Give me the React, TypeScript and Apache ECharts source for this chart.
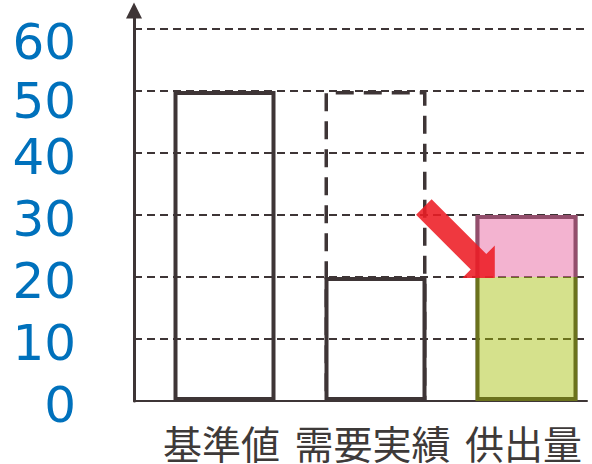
import React, { useEffect, useRef } from 'react';
import * as echarts from 'echarts';

const categories = ['基準値', '需要実績', '供出量'];
const yTicks = [0, 10, 20, 30, 40, 50, 60];
const referenceLevel = [null, 50, null];
const actualValues = [50, 20, null];
const supplyBase = [null, null, 20];
const supplyExtra = [null, null, 10];
const supplyTotal = supplyBase.map((v, i) => (v == null ? null : v + (supplyExtra[i] ?? 0)));

const AXIS_MAX = 63;
const DARK = '#3e3536';

export default function App() {
  const ref = useRef<HTMLDivElement>(null);
  useEffect(() => {
    if (!ref.current) return;
    const chart = echarts.init(ref.current, undefined, { renderer: 'svg' });
    const barCommon = { type: 'bar', xAxisIndex: 1, yAxisIndex: 1, barWidth: 102, barGap: '-100%' };
    const numStyle = { fontSize: 50, color: '#0071bc', fontFamily: 'DejaVu Sans' };
    chart.setOption({
      animation: false,
      grid: [
        { left: 134, right: 5, top: 10.4, bottom: 63, outerBoundsMode: 'none', containLabel: false },
        { left: 149, width: 453, top: 10.4, bottom: 63, outerBoundsMode: 'none', containLabel: false },
      ],
      xAxis: [
        {
          gridIndex: 0, type: 'category', data: categories,
          axisLine: { show: true, lineStyle: { color: DARK, width: 2 } },
          axisTick: { show: false }, splitLine: { show: false },
          axisLabel: {
            interval: 0, fontSize: 39, lineHeight: 40, color: '#3e3a39', margin: 21,
            fontFamily: '"Noto Sans CJK JP", sans-serif', padding: [0, 0, 0, 24],
          },
        },
        {
          gridIndex: 1, type: 'category', data: categories,
          axisLine: { show: false }, axisTick: { show: false }, axisLabel: { show: false },
        },
      ],
      yAxis: [
        {
          gridIndex: 0, type: 'value', min: 0, max: AXIS_MAX, interval: 10,
          axisLine: { show: true, symbol: ['none', 'triangle'], symbolSize: [16, 16], lineStyle: { color: DARK, width: 3 } },
          axisTick: { show: false },
          axisLabel: {
            ...numStyle, margin: 58,
            showMaxLabel: false, padding: [8, 0, 0, 0],
            formatter: (v: number) => {
              if (!yTicks.includes(v)) return '';
              if (v === 60) return `{c|${v}}`;
              if (v === 50) return `{b|${v}}`;
              return `{a|${v}}`;
            },
            rich: {
              a: { ...numStyle },
              b: { ...numStyle, padding: [12, 0, 0, 0] },
              c: { ...numStyle, padding: [18, 0, 0, 0] },
            },
          },
          splitLine: { show: true, showMinLine: false, showMaxLine: false, lineStyle: { color: DARK, type: [8, 5], width: 2 } },
        },
        { gridIndex: 1, type: 'value', min: 0, max: AXIS_MAX, show: false },
      ],
      series: [
        { ...barCommon, name: 'ref', data: referenceLevel, itemStyle: { color: 'rgba(0,0,0,0)', borderColor: DARK, borderWidth: 3.5, borderType: [18, 10] } },
        { ...barCommon, name: 'total', data: supplyTotal, itemStyle: { color: 'rgba(0,0,0,0)', borderColor: DARK, borderWidth: 4 } },
        { ...barCommon, name: 'actual', data: actualValues, itemStyle: { color: 'rgba(0,0,0,0)', borderColor: DARK, borderWidth: 4 } },
        { ...barCommon, name: 'base', stack: 'supply', data: supplyBase, itemStyle: { color: 'rgba(162,189,0,0.45)' } },
        { ...barCommon, name: 'extra', stack: 'supply', data: supplyExtra, itemStyle: { color: 'rgba(231,103,161,0.5)' } },
      ],
    });

    const c1 = chart.convertToPixel({ xAxisIndex: 1 }, categories[1]) as number;
    const c2 = chart.convertToPixel({ xAxisIndex: 1 }, categories[2]) as number;
    const band = c2 - c1;
    const yTip = chart.convertToPixel({ yAxisIndex: 1 }, supplyBase[2] as number) as number;
    const T = [c2 - 0.21 * band, yTip + 1];
    const S = [T[0] - 0.47 * band, T[1] - 0.47 * band];
    const dx = T[0] - S[0], dy = T[1] - S[1];
    const len = Math.hypot(dx, dy);
    const u = [dx / len, dy / len];
    const n = [-u[1], u[0]];
    const h = 23, H = 23, w = 11;
    const B = [T[0] - u[0] * h, T[1] - u[1] * h];
    const pt = (p: number[], k: number) => [p[0] + n[0] * k, p[1] + n[1] * k];
    const points = [pt(S, w), pt(B, w), pt(B, H), T, pt(B, -H), pt(B, -w), pt(S, -w)];
    chart.setOption({
      graphic: [{ type: 'polygon', shape: { points }, style: { fill: 'rgba(237,28,36,0.88)' }, z: 100 }],
    });

    return () => chart.dispose();
  }, []);
  return <div ref={ref} style={{ width: 592, height: 464, position: 'absolute', left: 0, top: 0 }} />;
}
